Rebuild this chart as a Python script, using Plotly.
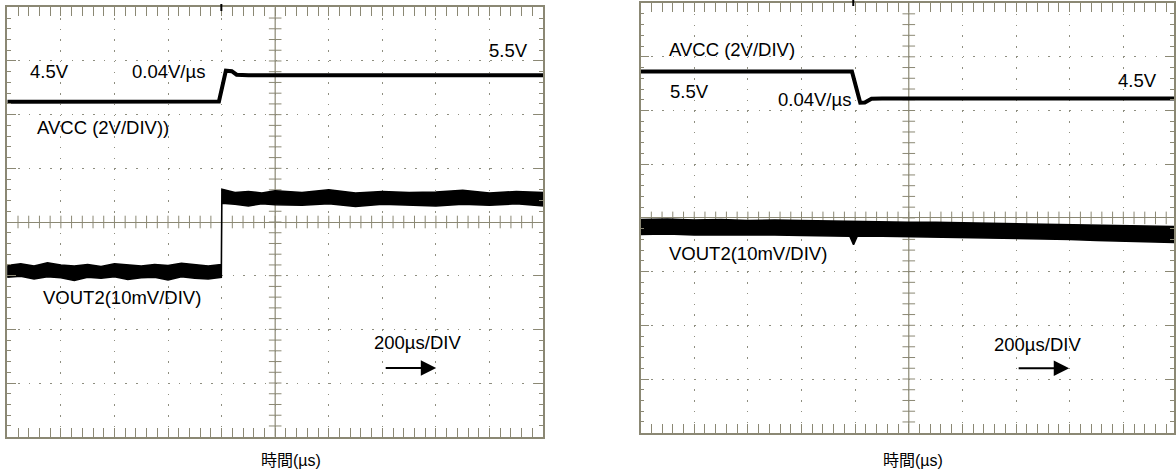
import plotly.graph_objects as go

# ---------------- data (time in µs, 200 µs/DIV, 10 DIV) ----------------
# Left panel: AVCC step 4.5 V -> 5.5 V  (2 V/DIV)
L_avcc_t = [0, 200, 400, 600, 790, 816, 838, 856, 900, 1200, 1600, 2000]
L_avcc_v = [4.48, 4.48, 4.47, 4.48, 4.49, 5.64, 5.62, 5.49, 5.47, 5.47, 5.47, 5.47]

# Left panel: VOUT2 band (10 mV/DIV), upper / lower envelope in mV
L_vout_t_pre = [0, 50, 100, 150, 200, 250, 300, 350, 400, 450, 500, 550, 600, 650, 700, 750, 799]
L_vout_up_pre = [-8.1, -7.8, -8.2, -7.6, -8.0, -8.2, -7.9, -8.3, -7.8, -8.0, -8.2, -7.9, -8.1, -7.7, -8.0, -8.2, -7.9]
L_vout_lo_pre = [-10.3, -10.1, -10.6, -10.2, -10.4, -10.9, -10.3, -10.5, -10.2, -10.7, -10.4, -10.3, -10.8, -10.2, -10.5, -10.6, -10.3]
L_vout_t_post = [801, 850, 900, 950, 1000, 1100, 1200, 1300, 1400, 1500, 1600, 1700, 1800, 1900, 2000]
L_vout_up_post = [6.1, 5.5, 5.7, 5.4, 5.8, 5.5, 6.0, 5.4, 5.7, 5.5, 5.6, 5.9, 5.4, 5.7, 5.5]
L_vout_lo_post = [3.5, 3.3, 3.0, 3.4, 3.2, 3.1, 3.4, 2.9, 3.3, 3.2, 3.0, 3.3, 3.1, 3.4, 3.0]

# Right panel: AVCC step 5.5 V -> 4.5 V
R_avcc_t = [0, 200, 400, 600, 788, 819, 836, 861, 900, 1200, 1600, 2000]
R_avcc_v = [5.45, 5.45, 5.45, 5.45, 5.45, 4.29, 4.30, 4.44, 4.45, 4.45, 4.45, 4.45]

# Right panel: VOUT2 band, upper / lower envelope in mV
R_vout_t = [0, 100, 200, 300, 400, 500, 600, 700, 780, 794, 808, 900, 1000, 1100, 1200, 1300, 1400, 1500, 1600, 1700, 1800, 1900, 2000]
R_vout_up = [-0.3, -0.2, -0.4, -0.3, -0.5, -0.4, -0.5, -0.6, -0.6, -0.7, -0.6, -0.7, -0.8, -0.8, -0.9, -1.0, -1.0, -1.1, -1.2, -1.3, -1.4, -1.5, -1.6]
R_vout_lo = [-3.1, -3.0, -3.2, -3.1, -3.2, -3.2, -3.3, -3.3, -3.4, -5.0, -3.4, -3.4, -3.5, -3.6, -3.6, -3.7, -3.8, -3.9, -4.0, -4.2, -4.3, -4.5, -4.6]

FRAME = "#8b8874"
DOT = "#8e8e80"
TXT_FONT = "Liberation Sans, Arial, sans-serif"

fig = go.Figure()


def band(t_up, up, t_lo, lo, yaxis, xaxis):
    xs = list(t_up) + list(reversed(t_lo))
    ys = list(up) + list(reversed(lo))
    xs.append(xs[0]); ys.append(ys[0])
    fig.add_trace(go.Scatter(x=xs, y=ys, xaxis=xaxis, yaxis=yaxis, mode="lines",
                             fill="toself", fillcolor="black",
                             line=dict(color="black", width=1.5), hoverinfo="skip",
                             showlegend=False))


# ---- left panel traces ----
# VOUT2 (pre + step + post) as one closed polygon
L_up_t = L_vout_t_pre + L_vout_t_post
L_up = L_vout_up_pre + L_vout_up_post
L_lo_t = L_vout_t_pre + L_vout_t_post
L_lo = L_vout_lo_pre + L_vout_lo_post
band(L_up_t, L_up, L_lo_t, L_lo, "y3", "x")
fig.add_trace(go.Scatter(x=L_avcc_t, y=L_avcc_v, xaxis="x", yaxis="y2", mode="lines",
                         line=dict(color="black", width=4), hoverinfo="skip", showlegend=False))

# ---- right panel traces ----
band(R_vout_t, R_vout_up, R_vout_t, R_vout_lo, "y6", "x2")
fig.add_trace(go.Scatter(x=R_avcc_t, y=R_avcc_v, xaxis="x2", yaxis="y5", mode="lines",
                         line=dict(color="black", width=4), hoverinfo="skip", showlegend=False))

# ---- centre-axis ticks of the graticule ----
minor_t = [i * 40 for i in range(1, 50)]
minor_d = [round(-4 + i * 0.2, 2) for i in range(1, 40)]
for xa, ya in (("x", "y"), ("x2", "y4")):
    fig.add_trace(go.Scatter(x=minor_t, y=[0] * len(minor_t), xaxis=xa, yaxis=ya, mode="markers",
                             marker=dict(symbol="line-ns", size=9, line=dict(color=FRAME, width=1)),
                             hoverinfo="skip", showlegend=False))
    fig.add_trace(go.Scatter(x=[1000] * len(minor_d), y=minor_d, xaxis=xa, yaxis=ya, mode="markers",
                             marker=dict(symbol="line-ew", size=9, line=dict(color=FRAME, width=1)),
                             hoverinfo="skip", showlegend=False))
    fig.add_shape(type="line", xref=xa, yref=ya + " domain", x0=1000, x1=1000, y0=0, y1=1,
                  line=dict(color=FRAME, width=1.2), layer="below")


def gx(domain, rng):
    return dict(domain=domain, range=rng, showline=True, linecolor=FRAME, linewidth=1.5,
                mirror="allticks", ticks="inside", ticklen=9, tickwidth=1.2, tickcolor=FRAME,
                dtick=200, tick0=0, showticklabels=False, showgrid=True, gridcolor=DOT,
                gridwidth=1, griddash="1.5px,9.23px", zeroline=False, fixedrange=True,
                minor=dict(dtick=40, tick0=0, ticks="inside", ticklen=4, tickwidth=1,
                           tickcolor=FRAME, showgrid=False))


def gy(domain, anchor):
    return dict(domain=domain, range=[-4, 4], anchor=anchor, showline=True, linecolor=FRAME,
                linewidth=1.5, mirror="allticks", ticks="inside", ticklen=9, tickwidth=1.2,
                tickcolor=FRAME, dtick=1, tick0=0, showticklabels=False, showgrid=True,
                gridcolor=DOT, gridwidth=1, griddash="1.5px,9.23px", zeroline=True,
                zerolinecolor=FRAME, zerolinewidth=1.2, fixedrange=True,
                minor=dict(dtick=0.2, tick0=0, ticks="inside", ticklen=4, tickwidth=1,
                           tickcolor=FRAME, showgrid=False))


W, H = 1176, 472
L_dom_x = [7.3 / W, 544 / W]
L_dom_y = [(H - 436.7) / H, (H - 7.3) / H]
R_dom_x = [641.7 / W, 1.0]
R_dom_y = [(H - 432.7) / H, (H - 3.1) / H]

fig.update_layout(
    width=W, height=H, margin=dict(l=0, r=0, t=0, b=0),
    paper_bgcolor="white", plot_bgcolor="white", showlegend=False,
    xaxis=gx(L_dom_x, [0, 2000]),
    yaxis=gy(L_dom_y, "x"),
    yaxis2=dict(overlaying="y", anchor="x", range=[-8, 8], visible=False, fixedrange=True),
    yaxis3=dict(overlaying="y", anchor="x", range=[-40, 40], visible=False, fixedrange=True),
    xaxis2=dict(gx(R_dom_x, [0, 1989]), anchor="y4"),
    yaxis4=gy(R_dom_y, "x2"),
    yaxis5=dict(overlaying="y4", anchor="x2", range=[-8, 8], visible=False, fixedrange=True),
    yaxis6=dict(overlaying="y4", anchor="x2", range=[-40, 40], visible=False, fixedrange=True),
)
fig.update_layout(xaxis=dict(anchor="y"))

ann = []


def txt(xref, yref, x, y, s):
    ann.append(dict(xref=xref, yref=yref, x=x, y=y, text=s, showarrow=False,
                    xanchor="center", yanchor="middle",
                    font=dict(family=TXT_FONT, size=18.5, color="black")))


# left panel labels
txt("x", "y", 159, 2.81, "4.5V")
txt("x", "y", 601, 2.81, "0.04V/µs")
txt("x", "y", 358, 1.77, "AVCC (2V/DIV))")
txt("x", "y", 1871, 3.20, "5.5V")
txt("x", "y", 427, -1.40, "VOUT2(10mV/DIV)")
txt("x", "y", 1532, -2.25, "200µs/DIV")
# right panel labels
txt("x2", "y4", 339, 3.13, "AVCC (2V/DIV)")
txt("x2", "y4", 181, 2.35, "5.5V")
txt("x2", "y4", 650, 2.20, "0.04V/µs")
txt("x2", "y4", 1853, 2.55, "4.5V")
txt("x2", "y4", 401, -0.66, "VOUT2(10mV/DIV)")
txt("x2", "y4", 1480, -2.35, "200µs/DIV")

for xr, yr, tx, ty in (("x", "y", 1601, -2.72), ("x2", "y4", 1598, -2.80)):
    ann.append(dict(xref=xr, yref=yr, x=tx, y=ty, ax=-52, ay=0, text="", showarrow=True,
                    arrowhead=2, arrowsize=1.4, arrowwidth=2.2, arrowcolor="black"))

# axis titles
for px in (291.7, 915):
    ann.append(dict(xref="paper", yref="paper", x=px / W, y=(H - 460) / H, text="時間(µs)",
                    showarrow=False, xanchor="center", yanchor="middle",
                    font=dict(family="Liberation Sans, Noto Sans CJK JP, sans-serif", size=16,
                              color="black")))

fig.update_layout(annotations=ann)

# trigger markers at the top edge
fig.add_shape(type="line", xref="x", yref="paper", x0=799, x1=799, y0=(H - 11) / H, y1=(H - 4) / H,
              line=dict(color="black", width=2))
fig.add_shape(type="line", xref="x2", yref="paper", x0=793, x1=793, y0=(H - 6) / H, y1=1.0,
              line=dict(color="black", width=2))

fig.write_html("out.html")
